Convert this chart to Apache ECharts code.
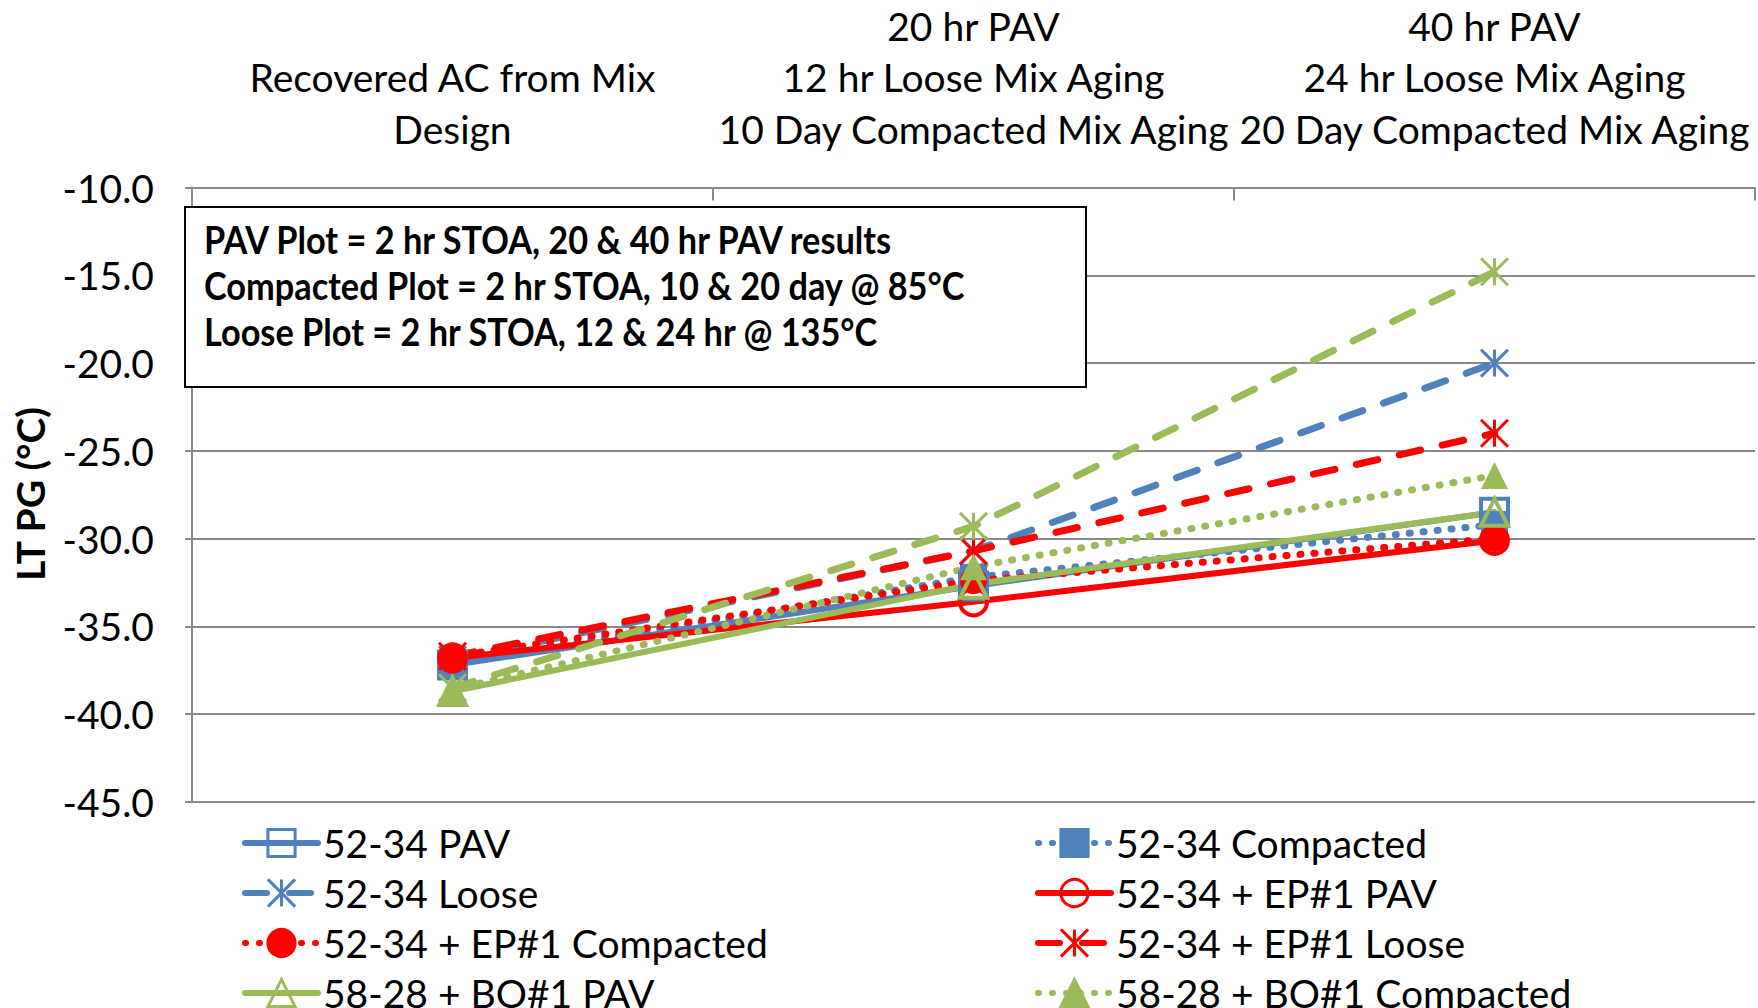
<!DOCTYPE html>
<html>
<head>
<meta charset="utf-8">
<script src="https://cdn.jsdelivr.net/npm/echarts@6/dist/echarts.min.js"></script>
<style>
html,body{margin:0;padding:0;background:#fff;}
#main{width:1758px;height:1008px;}
</style>
</head>
<body>
<div id="main"></div>
<script>
// ---- data ----
const categories = [
  'Recovered AC from Mix\nDesign',
  '20 hr PAV\n12 hr Loose Mix Aging\n10 Day Compacted Mix Aging',
  '40 hr PAV\n24 hr Loose Mix Aging\n20 Day Compacted Mix Aging'
];
const yTicks = { min: -45, max: -10, interval: 5 };
const s5234PAV        = [-37.2, -32.7, -28.5];
const s5234Compacted  = [-37.1, -32.2, -29.2];
const s5234Loose      = [-36.9, -30.7, -20.0];
const sEP1PAV         = [-36.8, -33.6, -30.1];
const sEP1Compacted   = [-36.7, -32.4, -30.0];
const sEP1Loose       = [-36.7, -30.7, -24.0];
const sBO1PAV         = [-38.7, -32.6, -28.5];
const sBO1Compacted   = [-38.6, -31.6, -26.4];
const sBO1Loose       = [-38.5, -29.3, -14.8];
const seriesNames = [
  '52-34 PAV', '52-34 Compacted', '52-34 Loose',
  '52-34 + EP#1 PAV', '52-34 + EP#1 Compacted', '52-34 + EP#1 Loose',
  '58-28 + BO#1 PAV', '58-28 + BO#1 Compacted', '58-28 + BO#1 Loose'
];
const noteLines = [
  'PAV Plot = 2 hr STOA, 20 & 40 hr PAV results',
  'Compacted Plot = 2 hr STOA, 10 & 20 day @ 85°C',
  'Loose Plot = 2 hr STOA, 12 & 24 hr @ 135°C'
];
const yName = 'LT PG (°C)';

// ---- styles ----
const BLUE = '#4F81BD', RED = '#FF0000', GREEN = '#9BBB59';
const FONT = 'Lato, "Noto Sans", sans-serif';
const FS = 39;
const STAR = 'path://M0,0L10,10M10,0L0,10M5,0L5,10';
const SOLID = 'solid', DOT = [1, 13], DASH = [22, 22];

function mk(name, data, color, kind, symbol, filled) {
  const isStar = symbol === STAR;
  return {
    name: name, type: 'line', data: data,
    symbol: symbol, symbolSize: 27,
    lineStyle: { color: color, width: kind === SOLID ? 6 : 7, type: kind, cap: 'round' },
    itemStyle: filled
      ? { color: color, borderColor: color, borderWidth: 0 }
      : { color: 'rgba(255,255,255,0)', borderColor: color, borderWidth: isStar ? 3 : 4 },
    emphasis: { disabled: true },
    animation: false
  };
}

const series = [
  mk(seriesNames[0], s5234PAV, BLUE, SOLID, 'rect', false),
  mk(seriesNames[1], s5234Compacted, BLUE, DOT, 'rect', true),
  mk(seriesNames[2], s5234Loose, BLUE, DASH, STAR, false),
  mk(seriesNames[3], sEP1PAV, RED, SOLID, 'circle', false),
  mk(seriesNames[4], sEP1Compacted, RED, DOT, 'circle', true),
  mk(seriesNames[5], sEP1Loose, RED, DASH, STAR, false),
  mk(seriesNames[6], sBO1PAV, GREEN, SOLID, 'triangle', false),
  mk(seriesNames[7], sBO1Compacted, GREEN, DOT, 'triangle', true),
  mk(seriesNames[8], sBO1Loose, GREEN, DASH, STAR, false)
];

const legendCommon = {
  orient: 'vertical', top: 818, height: 420, padding: 0,
  itemWidth: 73, itemHeight: 34, itemGap: 0,
  lineStyle: { width: 6 },
  itemStyle: { borderWidth: 3 },
  textStyle: { fontFamily: FONT, fontSize: FS, color: '#000', lineHeight: 50 },
  selectedMode: false
};

const boldFont = 'bold ' + FS + 'px ' + FONT;
const chart = echarts.init(document.getElementById('main'), null, { renderer: 'svg' });
chart.setOption({
  backgroundColor: '#fff',
  animation: false,
  grid: { left: 192, right: 3, top: 186, bottom: 206, containLabel: false },
  xAxis: {
    type: 'category', data: categories, position: 'top', boundaryGap: true,
    axisLine: { show: true, lineStyle: { color: '#898989', width: 2 } },
    axisTick: { show: true, inside: true, length: 13, lineStyle: { color: '#898989', width: 2 } },
    axisLabel: { interval: 0, fontFamily: FONT, fontSize: FS, color: '#000', lineHeight: 51.5, margin: 33 },
    splitLine: { show: false }
  },
  yAxis: {
    type: 'value', min: yTicks.min, max: yTicks.max, interval: yTicks.interval,
    axisLine: { show: true, lineStyle: { color: '#898989', width: 2 } },
    axisTick: { show: true, inside: false, length: 7, lineStyle: { color: '#898989', width: 2 } },
    axisLabel: { fontFamily: FONT, fontSize: FS, color: '#000', margin: 38,
      formatter: v => v.toFixed(1) },
    splitLine: { show: true, lineStyle: { color: '#898989', width: 2 } }
  },
  legend: [
    Object.assign({ left: 242, data: [seriesNames[0], seriesNames[2], seriesNames[4], seriesNames[6], seriesNames[8]] }, legendCommon),
    Object.assign({ left: 1035, data: [seriesNames[1], seriesNames[3], seriesNames[5], seriesNames[7]] }, legendCommon)
  ],
  graphic: [
    { type: 'rect', z: 100, shape: { x: 185, y: 207, width: 901, height: 180 },
      style: { fill: '#fff', stroke: '#000', lineWidth: 2 } },
    { type: 'text', z: 101, x: 204, y: 239, scaleX: 0.88, style: { text: noteLines[0], font: boldFont, fill: '#000', textVerticalAlign: 'middle' } },
    { type: 'text', z: 101, x: 204, y: 285, scaleX: 0.88, style: { text: noteLines[1], font: boldFont, fill: '#000', textVerticalAlign: 'middle' } },
    { type: 'text', z: 101, x: 204, y: 331, scaleX: 0.88, style: { text: noteLines[2], font: boldFont, fill: '#000', textVerticalAlign: 'middle' } },
    { type: 'text', z: 101, x: 30, y: 494, rotation: Math.PI / 2,
      style: { text: yName, font: boldFont, fill: '#000', textAlign: 'center', textVerticalAlign: 'middle' } }
  ],
  series: series
});
</script>
</body>
</html>
